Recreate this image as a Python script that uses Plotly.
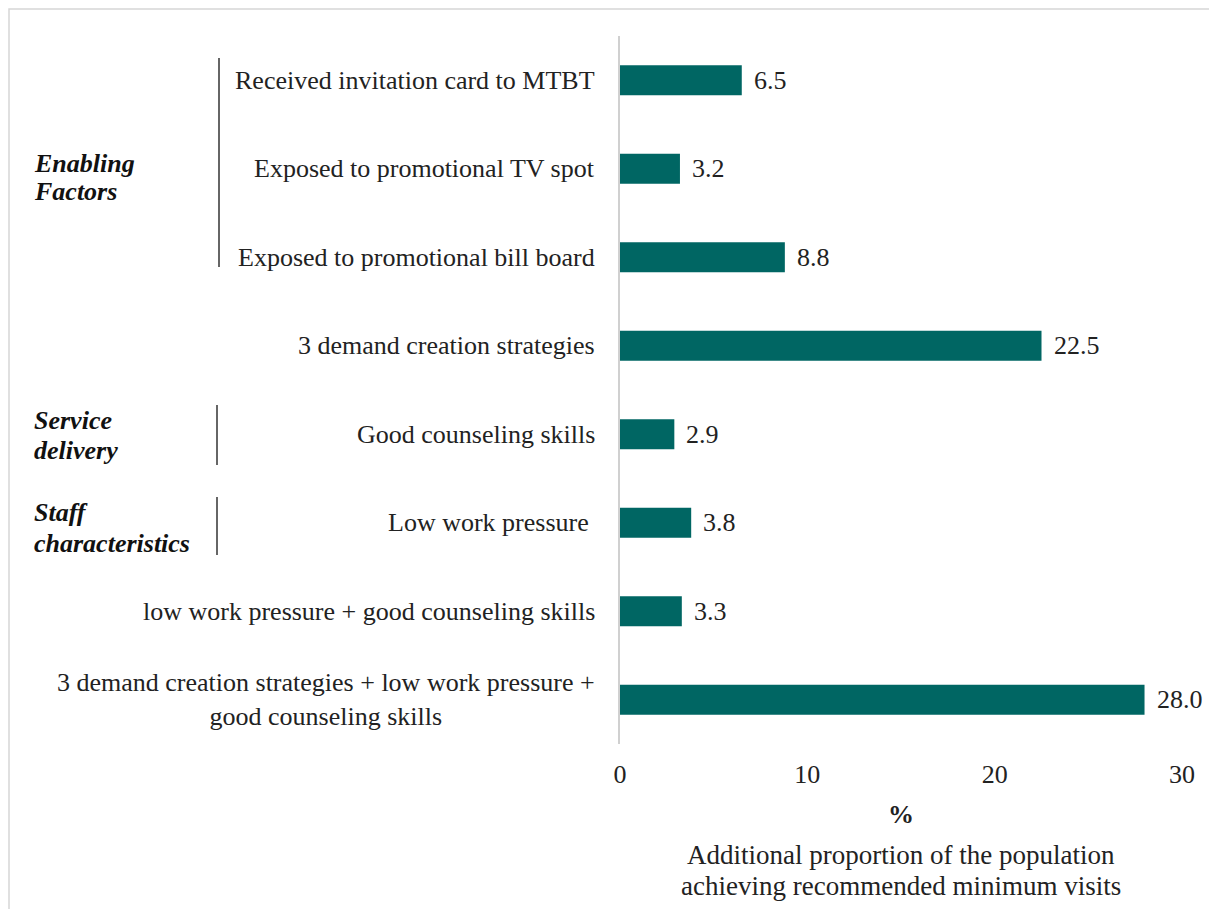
import plotly.graph_objects as go

categories = [
    "Received invitation card to MTBT",
    "Exposed to promotional TV spot",
    "Exposed to promotional bill board",
    "3 demand creation strategies",
    "Good counseling skills",
    "Low work pressure\u00a0",
    "low work pressure + good counseling skills",
    "3 demand creation strategies + low work pressure +<br>good counseling skills",
]
values = [6.5, 3.2, 8.8, 22.5, 2.9, 3.8, 3.3, 28.0]
x_ticks = [0, 10, 20, 30]

group_lines = [("Enabling", 163), ("Factors", 192), ("Service", 421), ("delivery", 450),
               ("Staff", 512), ("characteristics", 543)]
group_bars = [(219, 58, 267), (217, 405, 465), (217, 497, 555)]
subtitle_lines = [("Additional proportion of the population", 855),
                  ("achieving recommended minimum visits", 886)]

# screen-pixel layout (page has an 8px body margin)
OFF = 8
W, H = 1217 - OFF, 909 - OFF
SL, SR, ST, SB = 620, 1182, 36, 744
FONT = "Liberation Serif, Times New Roman, serif"
BAR = "#006663"
TXT = "#222222"

def px_x(p):
    return (p - SL) / (SR - SL)

def px_y(p):
    return (SB - p) / (SB - ST)

fig = go.Figure(go.Bar(
    x=values, y=categories, orientation="h",
    marker=dict(color=BAR, line=dict(width=0)),
    width=0.34, hoverinfo="skip",
))

ann = []
for c, v in zip(categories, values):
    ann.append(dict(x=0, xref="paper", y=c, yref="y", text=c, showarrow=False,
                    xanchor="right", yanchor="middle", align="center", xshift=-23,
                    font=dict(family=FONT, size=26, color=TXT)))
    ann.append(dict(x=v, xref="x", y=c, yref="y", text=f"{v:.1f}", showarrow=False,
                    xanchor="left", yanchor="middle", xshift=10,
                    font=dict(family=FONT, size=26, color=TXT)))

for t, gy in group_lines:
    ann.append(dict(x=px_x(32), xref="paper", y=px_y(gy), yref="paper",
                    text=f"<b><i>{t}</i></b>", showarrow=False,
                    xanchor="left", yanchor="middle", align="left",
                    font=dict(family=FONT, size=26, color="#111")))

ann.append(dict(x=0.5, xref="paper", y=px_y(814), yref="paper", text="<b>%</b>",
                showarrow=False, xanchor="center", yanchor="middle",
                font=dict(family=FONT, size=26, color=TXT)))
for t, sy in subtitle_lines:
    ann.append(dict(x=0.5, xref="paper", y=px_y(sy), yref="paper", text=t,
                    showarrow=False, xanchor="center", yanchor="middle",
                    font=dict(family=FONT, size=27, color=TXT)))

shapes = []
for xp, y0, y1 in group_bars:
    shapes.append(dict(type="line", xref="paper", yref="paper",
                       x0=px_x(xp), x1=px_x(xp), y0=px_y(y0), y1=px_y(y1),
                       line=dict(color="#333", width=1.5)))
# outer border (top and left visible)
shapes.append(dict(type="rect", xref="paper", yref="paper",
                   x0=px_x(OFF + 1), x1=px_x(1240), y0=px_y(940), y1=px_y(OFF + 1),
                   line=dict(color="#d6d6d6", width=1.5), layer="below"))

fig.update_layout(
    width=W, height=H,
    margin=dict(l=SL - OFF, r=W - (SR - OFF), t=ST - OFF, b=H - (SB - OFF), pad=0),
    plot_bgcolor="white", paper_bgcolor="white",
    showlegend=False, bargap=0.66,
    annotations=ann, shapes=shapes,
    font=dict(family=FONT, size=26, color=TXT),
)
fig.update_xaxes(range=[0, 30], tickvals=x_ticks, showgrid=False, zeroline=False,
                 showline=False, ticks="", ticklabelstandoff=12,
                 tickfont=dict(family=FONT, size=26, color=TXT), fixedrange=True)
fig.update_yaxes(categoryorder="array", categoryarray=categories[::-1],
                 showticklabels=False, showgrid=False, zeroline=False,
                 showline=True, linecolor="#d0d0d0", linewidth=1.5, ticks="",
                 fixedrange=True)

fig.write_html("out.html")
